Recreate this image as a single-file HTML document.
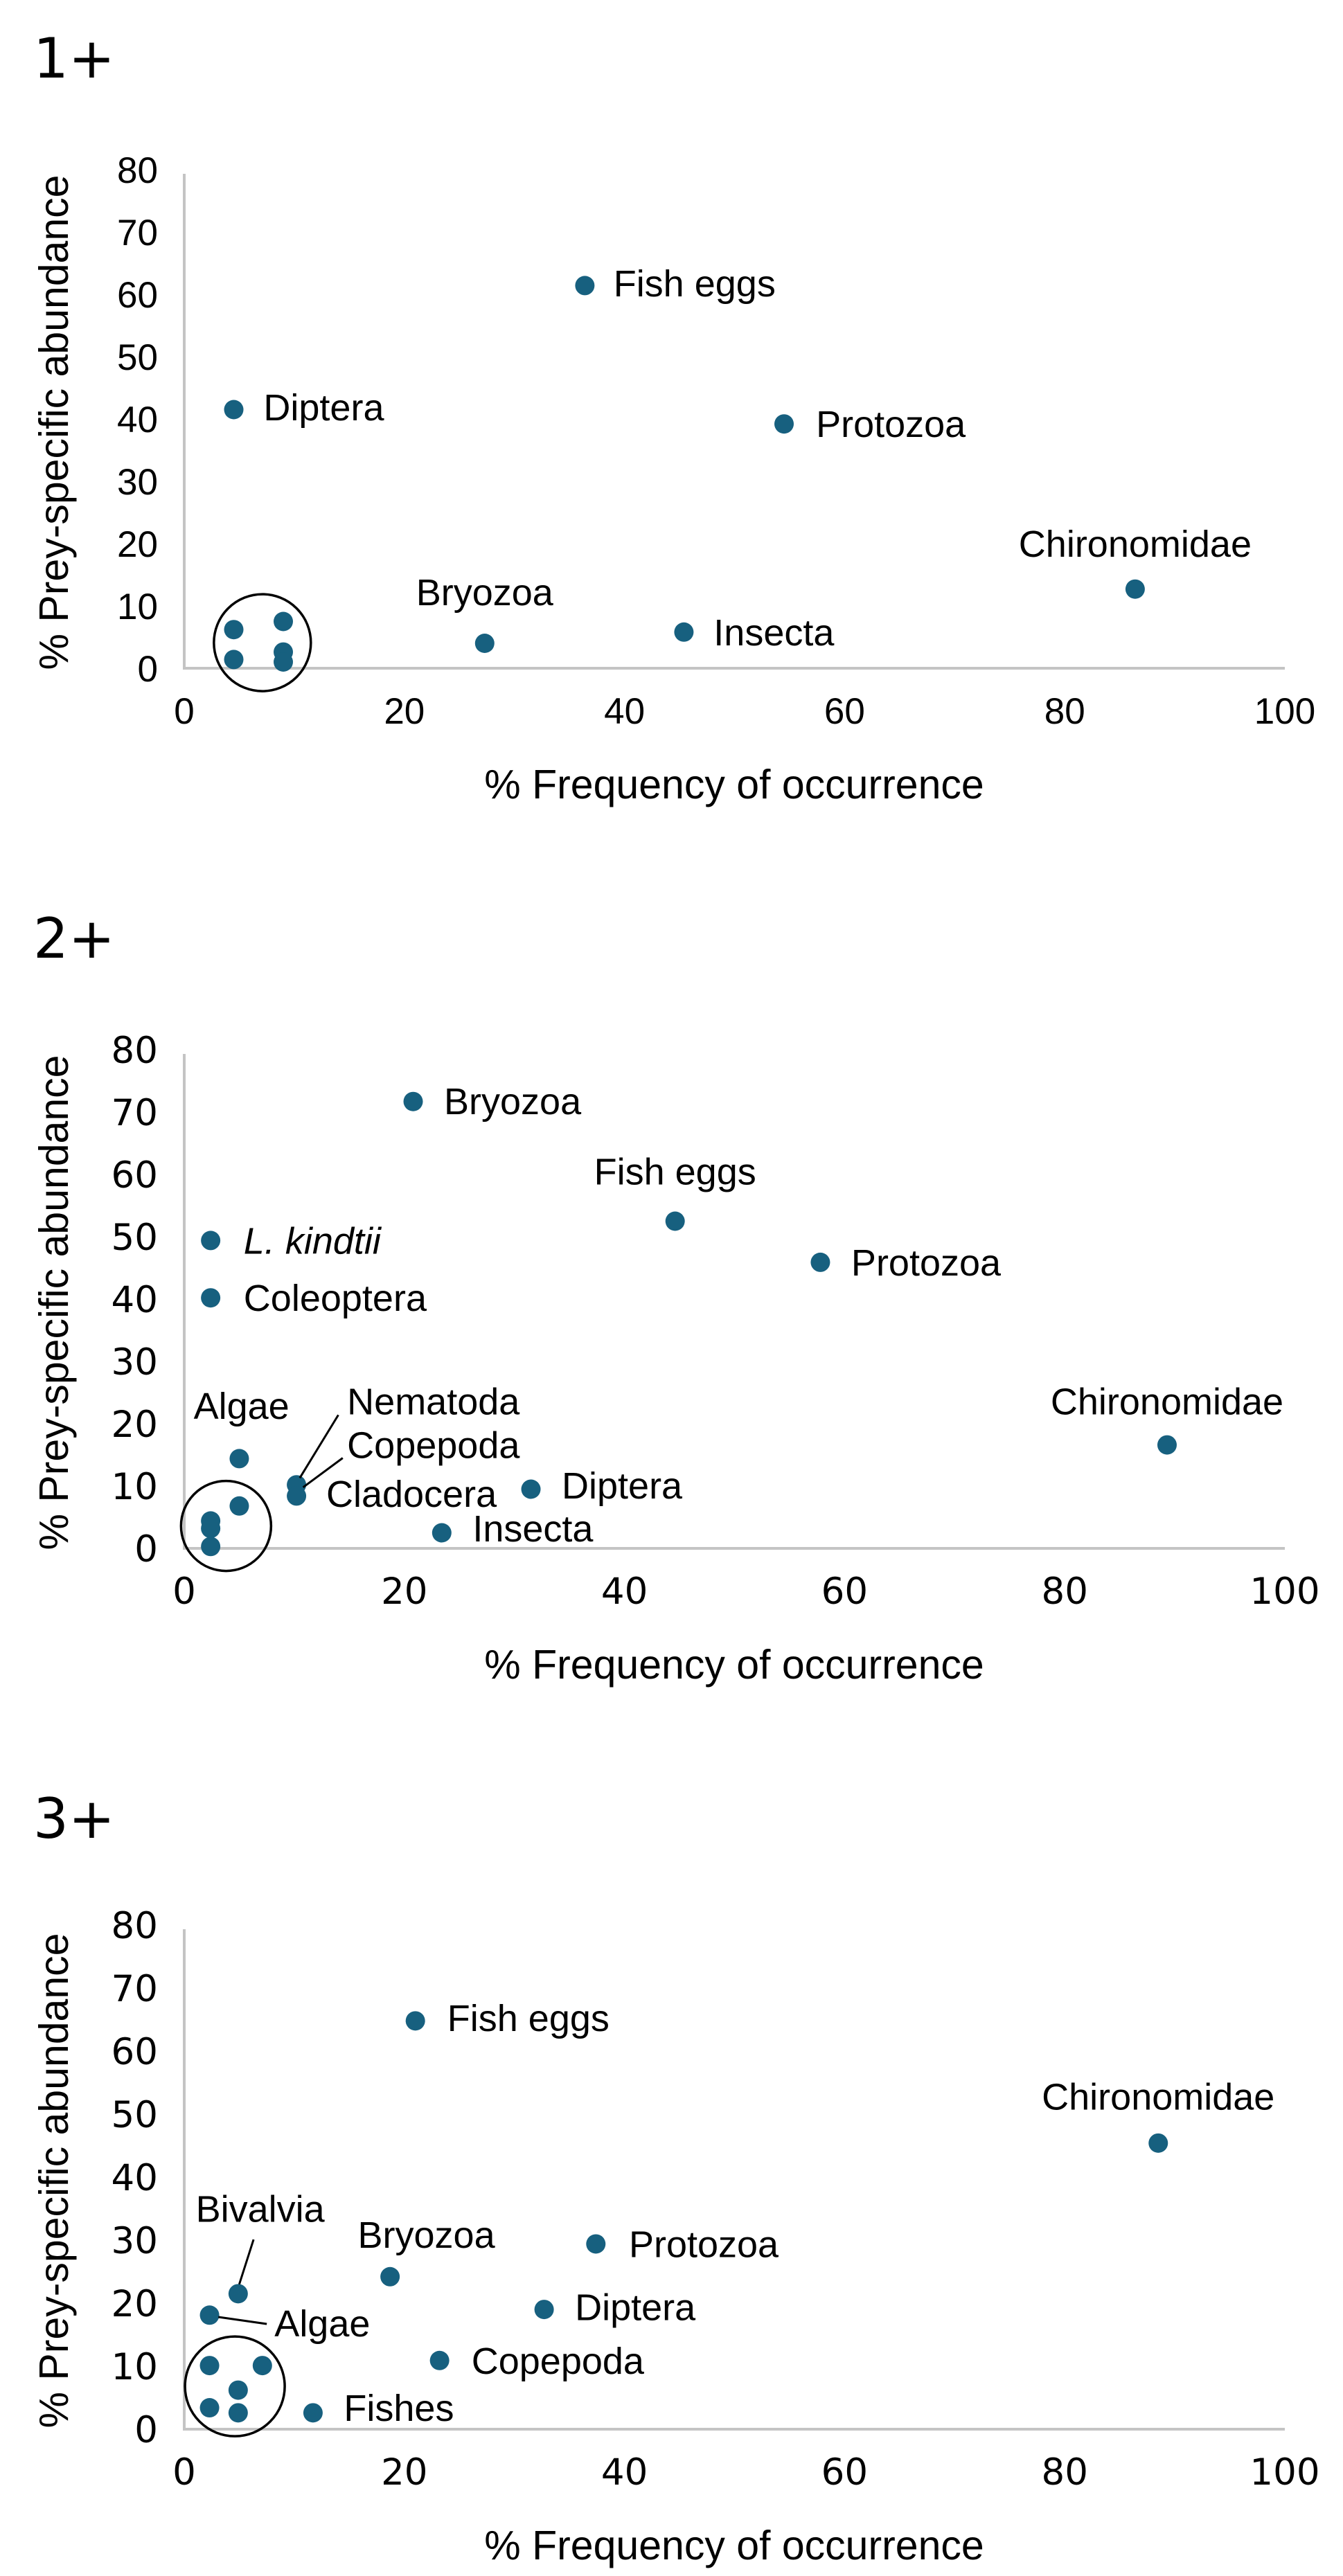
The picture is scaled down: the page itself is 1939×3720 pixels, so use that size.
<!DOCTYPE html>
<html><head><meta charset="utf-8"><style>
html,body{margin:0;padding:0;background:#fff;}
svg{display:block;}
.t{font-family:"Liberation Sans",Arial,sans-serif;fill:#000;}
.d{font-family:"DejaVu Sans",Verdana,sans-serif;fill:#000;}
</style></head><body>
<svg id="fig" width="1939" height="3720" viewBox="0 0 1939 3720" xmlns="http://www.w3.org/2000/svg"></svg>
<script>
// Chart 1 (1+)
const c1X = [36.4,4.5,54.5,86.4,27.3,45.4,4.5,4.5,9.0,9.0,9.0];
const c1Y = [61.4,41.5,39.2,12.7,4.0,5.8,6.2,1.4,7.5,2.6,1.0];
const c1LabelText = ["Fish eggs","Diptera","Protozoa","Chironomidae","Bryozoa","Insecta"];
const c1LabelX = [39.0,7.2,57.4,86.4,27.3,48.1];
const c1LabelY = [61.8,41.9,39.2,20.0,12.2,5.8];
const c1LabelAnchor = ["start","start","start","middle","middle","start"];
const c1Circle = [7.1,4.1];
// Chart 2 (2+)
const c2X = [20.8,44.6,2.4,57.8,2.4,89.3,5.0,10.2,10.2,31.5,23.4,2.4,2.4,2.4,5.0];
const c2Y = [71.7,52.5,49.4,45.9,40.2,16.6,14.4,10.2,8.4,9.5,2.5,4.4,3.2,0.3,6.8];
const c2LabelText = ["Bryozoa","Fish eggs","L. kindtii","Protozoa","Coleoptera","Chironomidae","Algae","Nematoda","Copepoda","Cladocera","Diptera","Insecta"];
const c2LabelX = [23.6,44.6,5.4,60.6,5.4,89.3,5.2,14.8,14.8,12.9,34.3,26.2];
const c2LabelY = [71.8,60.5,49.4,45.9,40.2,23.6,22.9,23.6,16.6,8.8,10.1,3.2];
const c2LabelAnchor = ["start","middle","start","start","start","middle","middle","start","start","start","start","start"];
const c2Leaders = [[10.5,11.3,14.0,21.4],[10.8,9.8,14.4,14.5]];
const c2Circle = [3.8,3.6];
// Chart 3 (3+)
const c3X = [21.0,88.5,37.4,18.7,4.9,2.3,32.7,23.2,11.7,2.3,7.1,4.9,2.3,4.9];
const c3Y = [64.8,45.4,29.4,24.2,21.5,18.1,19.0,10.9,2.6,10.1,10.1,6.2,3.4,2.6];
const c3LabelText = ["Fish eggs","Chironomidae","Bivalvia","Bryozoa","Protozoa","Algae","Diptera","Copepoda","Fishes"];
const c3LabelX = [23.9,88.5,6.9,22.0,40.4,8.2,35.5,26.1,14.5];
const c3LabelY = [65.3,52.8,35.0,30.9,29.4,16.8,19.4,10.9,3.4];
const c3LabelAnchor = ["start","middle","middle","middle","start","start","start","start","start"];
const c3Leaders = [[5.0,23.0,6.3,30.1],[3.1,17.8,7.5,16.7]];
const c3Circle = [4.6,6.8];
// Ticks
const xTicks = [0,20,40,60,80,100];
const yTicks = [0,10,20,30,40,50,60,70,80];

const NS="http://www.w3.org/2000/svg";
const svg=document.getElementById('fig');
function mk(tag,attrs,parent){const e=document.createElementNS(NS,tag);for(const k in attrs)e.setAttribute(k,attrs[k]);(parent||svg).appendChild(e);return e;}

function chart(cfg){
  const g=mk('g',{});
  
  
  const x0=266,x1=1855,y0=cfg.y0,y1=cfg.y80;
  const sx=v=>x0+(x1-x0)*v/100;
  const sy=v=>y0+(y1-y0)*v/80;
  const title=mk('text',{x:48,y:cfg.titleY,class:'d','font-size':80},g);
  title.textContent=cfg.title;
  
  
  const ax=mk('path',{d:`M${x0} ${y1+6} L${x0} ${y0} L${x1} ${y0}`,fill:'none',stroke:'#c4c4c4','stroke-width':4},g);
  
  
  for(const v of yTicks){
    const t=mk('text',{x:228,y:sy(v)+19,'text-anchor':'end',class:cfg.tickCls,'font-size':53},g);
    t.textContent=v;
    
    
  }
  for(const v of xTicks){
    const t=mk('text',{x:sx(v),y:y0+80,'text-anchor':'middle',class:cfg.tickCls,'font-size':53},g);
    t.textContent=v;
    if(cfg.grey100&&v===100)t.setAttribute('fill','#666');
    
    
  }
  const yt=mk('text',{x:0,y:0,'text-anchor':'middle',class:'t','font-size':59,transform:`translate(98 ${(y0+y1)/2+5}) rotate(-90)`},g);
  yt.textContent='% Prey-specific abundance';
  
  
  const xt=mk('text',{x:1060,y:y0+188,'text-anchor':'middle',class:'t','font-size':59},g);
  xt.textContent='% Frequency of occurrence';
  
  
  cfg.xs.forEach((xv,i)=>{
    const c=mk('circle',{cx:sx(xv),cy:sy(cfg.ys[i]),r:14,fill:'#17607f'},g);
    
    
  });
  cfg.lt.forEach((s,i)=>{
    const t=mk('text',{x:sx(cfg.lx[i]),y:sy(cfg.ly[i])+19,'text-anchor':cfg.la[i],class:'t','font-size':54},g);
    if(s==='L. kindtii'){t.setAttribute('font-style','italic');}
    t.textContent=s;
    
    
  });
  (cfg.leaders||[]).forEach(l=>{
    const ln=mk('line',{x1:sx(l[0]),y1:sy(l[1]),x2:sx(l[2]),y2:sy(l[3]),stroke:'#000','stroke-width':3},g);
    
    
  });
  const ci=mk('circle',{cx:sx(cfg.circle[0]),cy:sy(cfg.circle[1]),r:cfg.r,fill:'none',stroke:'#000','stroke-width':3.5},g);
  
  
}
chart({name:'chart-1plus',title:'1+',titleY:112,y0:965,y80:245,tickCls:'t',grey100:true,xs:c1X,ys:c1Y,lt:c1LabelText,lx:c1LabelX,ly:c1LabelY,la:c1LabelAnchor,circle:c1Circle,r:70});
chart({name:'chart-2plus',title:'2+',titleY:1383,y0:2236,y80:1516,tickCls:'d',xs:c2X,ys:c2Y,lt:c2LabelText,lx:c2LabelX,ly:c2LabelY,la:c2LabelAnchor,leaders:c2Leaders,circle:c2Circle,r:65});
chart({name:'chart-3plus',title:'3+',titleY:2654,y0:3508,y80:2780,tickCls:'d',xs:c3X,ys:c3Y,lt:c3LabelText,lx:c3LabelX,ly:c3LabelY,la:c3LabelAnchor,leaders:c3Leaders,circle:c3Circle,r:72});
</script>
</body></html>
